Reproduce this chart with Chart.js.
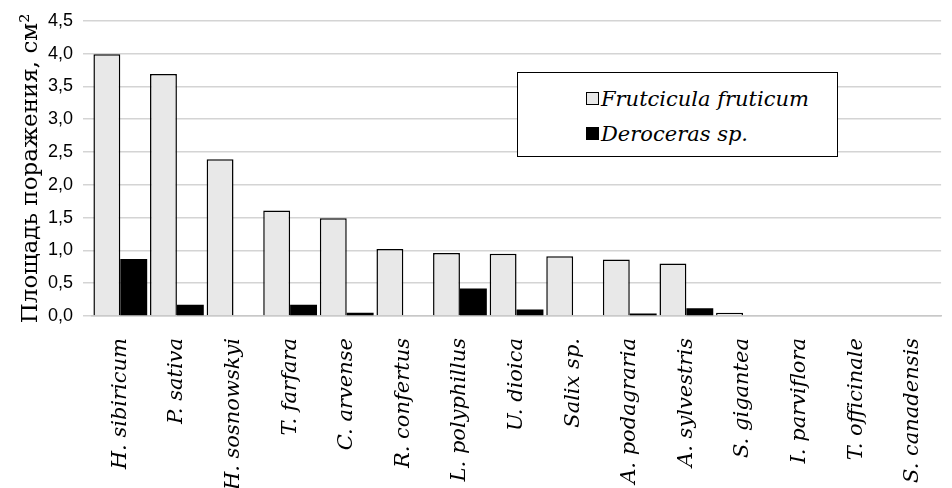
<!DOCTYPE html>
<html>
<head>
<meta charset="utf-8">
<script src="https://cdn.jsdelivr.net/npm/chart.js@4"></script>
<style>
  html, body { margin: 0; padding: 0; background: #fff; }
  #wrap { position: relative; width: 952px; height: 488px; }
  #legend {
    position: absolute; left: 517px; top: 72px; width: 319px; height: 83px;
    border: 1.5px solid #000; background: #fff;
    font-family: 'DejaVu Serif', serif; font-style: italic; font-size: 21px;
  }
  #legend div { position: absolute; left: 68px; white-space: nowrap; line-height: 28px; }
  #legend span.sw { display: inline-block; width: 11px; height: 11px; border: 1px solid #000; margin-right: 2px; vertical-align: 1px; }
</style>
</head>
<body>
<div id="wrap">
  <canvas id="chart" width="952" height="488"></canvas>
  <div id="legend">
    <div style="top:12px"><span class="sw" style="background:#e8e8e8"></span>Frutcicula fruticum</div>
    <div style="top:47px"><span class="sw" style="background:#000"></span>Deroceras sp.</div>
  </div>
</div>
<script>
var species = ['H. sibiricum', 'P. sativa', 'H. sosnowskyi', 'T. farfara', 'C. arvense', 'R. confertus',
  'L. polyphillus', 'U. dioica', 'Salix sp.', 'A. podagraria', 'A. sylvestris', 'S. gigantea',
  'I. parviflora', 'T. officinale', 'S. canadensis'];
var fruticum = [3.99, 3.69, 2.39, 1.61, 1.49, 1.02, 0.96, 0.95, 0.91, 0.86, 0.80, 0.05, 0, 0, 0];
var deroceras = [0.87, 0.17, 0.01, 0.17, 0.05, 0, 0.42, 0.10, 0, 0.04, 0.12, 0.01, 0, 0, 0];
var yTicks = [0, 0.5, 1, 1.5, 2, 2.5, 3, 3.5, 4, 4.5];

var serif = "'DejaVu Serif', serif";

var ctx = document.getElementById('chart').getContext('2d');
var chart = new Chart(ctx, {
  type: 'bar',
  data: {
    labels: species,
    datasets: [{
      label: 'Frutcicula fruticum',
      data: fruticum,
      backgroundColor: '#e8e8e8',
      borderColor: '#000',
      borderWidth: 1.5,
      barPercentage: 1,
      categoryPercentage: 0.95
    }, {
      label: 'Deroceras sp.',
      data: deroceras,
      backgroundColor: '#000',
      borderColor: '#000',
      borderWidth: 0,
      barPercentage: 1,
      categoryPercentage: 0.95
    }]
  },
  options: {
    responsive: false,
    animation: false,
    layout: { padding: { top: 16, right: 0, left: 0, bottom: 0 } },
    plugins: { legend: { display: false }, tooltip: { enabled: false } },
    scales: {
      x: {
        grid: { display: false },
        border: { color: '#c8c8c8', width: 1.5 },
        ticks: {
          color: '#000', minRotation: 90, maxRotation: 90, padding: 14,
          font: { family: serif, style: 'italic', size: 21 }
        },
        afterFit: function (scale) { scale.height = 172; }
      },
      y: {
        min: 0, max: 4.5,
        afterBuildTicks: function (scale) { scale.ticks = yTicks.map(function (v) { return { value: v }; }); },
        grid: { color: '#d4d4d4', lineWidth: 1.5, tickLength: 9 },
        border: { display: false },
        ticks: {
          color: '#000', padding: 10,
          font: { family: "'Liberation Sans', Arial, sans-serif", size: 18 },
          callback: function (v) { return v.toFixed(1).replace('.', ','); }
        },
        title: {
          display: true, text: 'Площадь поражения, см²', color: '#000', padding: { top: 17, bottom: 0 },
          font: { family: serif, size: 23 }
        },
        afterFit: function (scale) { scale.width = 92; }
      }
    }
  }
});
</script>
</body>
</html>
